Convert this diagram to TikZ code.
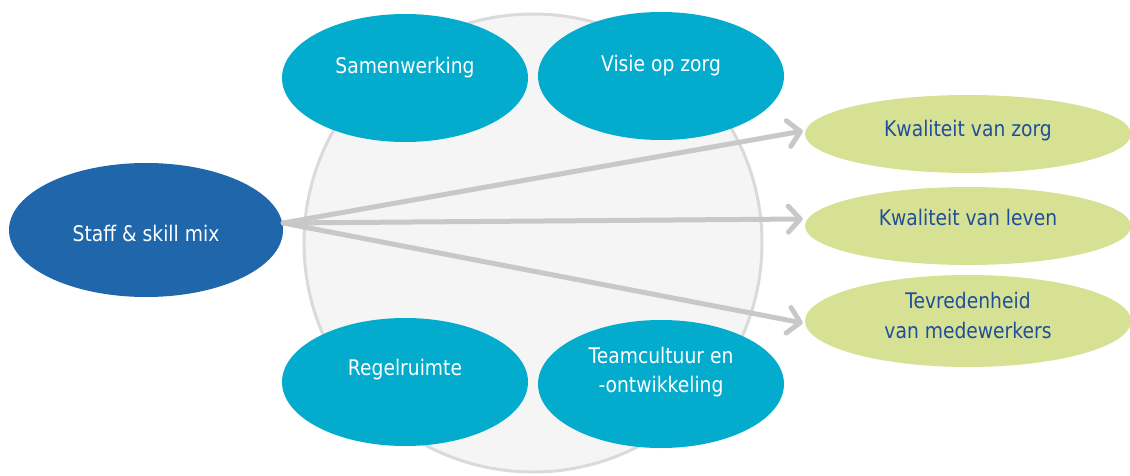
\documentclass[tikz,border=0pt]{standalone}
\usepackage{fontspec}
\setmainfont[FakeStretch=0.87]{DejaVu Sans}
\usetikzlibrary{shapes.geometric,arrows.meta}
\definecolor{cyanell}{HTML}{03ABCD}
\definecolor{darkell}{HTML}{1F67AA}
\definecolor{greenell}{HTML}{D7E194}
\definecolor{greentext}{HTML}{1F4E9C}
\definecolor{circfill}{HTML}{F5F5F5}
\definecolor{circline}{HTML}{DADADA}
\definecolor{arrowgray}{HTML}{C8C8C8}
\tikzset{
  ell/.style={ellipse, inner sep=0pt, draw=none},
  cyanbox/.style={ell, fill=cyanell, minimum width=246pt, minimum height=128pt},
  darkbox/.style={ell, fill=darkell, minimum width=274pt, minimum height=134pt},
  greenbox/.style={ell, fill=greenell, minimum width=326pt},
  wlabel/.style={anchor=base, text=white, font=\fontsize{21.5}{29}\selectfont, inner sep=0pt},
  blabel/.style={anchor=base, text=greentext, font=\fontsize{21.5}{29}\selectfont, inner sep=0pt},
  flow/.style={draw=arrowgray, line width=5pt, line cap=round, line join=round,
    -{Straight Barb[length=12pt,width=26pt,line cap=round,line join=round]}}
}
\begin{document}
\begin{tikzpicture}[x=1pt,y=-1pt]
\useasboundingbox (0,0) rectangle (1130,476);
% big background circle
\node[circle, fill=circfill, draw=circline, line width=3pt, minimum size=458pt, inner sep=0pt] (ring) at (533,243) {};
% source
\node[darkbox] (staff) at (146,230) {};
\node[wlabel] (stafft) at (146,241) {Staff \& skill mix};
\coordinate (src) at ([yshift=7pt]staff.east);
% outcomes
\node[greenbox, minimum height=78pt] (kz) at (968,134) {};
\node[blabel] (kzt) at (968,137) {Kwaliteit van zorg};
\node[greenbox, minimum height=78pt] (kl) at (968,226) {};
\node[blabel] (klt) at (968,225) {Kwaliteit van leven};
\node[greenbox, minimum height=92pt] (tm) at (968,321) {};
\node[blabel] (tmt1) at (968,308) {Tevredenheid};
\node[blabel] (tmt2) at (968,338) {van medewerkers};
% arrows
\draw[flow] (src) -- ([xshift=-2pt,yshift=3pt]kz.west);
\draw[flow] (src) -- ([xshift=-2pt,yshift=7pt]kl.west);
\draw[flow] (src) -- ([xshift=-2pt,yshift=-2pt]tm.west);
% factors
\node[cyanbox] (sam) at (405,78) {};
\node[wlabel] (samt) at (405,74) {Samenwerking};
\node[cyanbox] (vis) at (661,76) {};
\node[wlabel] (vist) at (661,72) {Visie op zorg};
\node[cyanbox] (reg) at (405,382) {};
\node[wlabel] (regt) at (405,375) {Regelruimte};
\node[cyanbox] (team) at (661,384) {};
\node[wlabel] (teamt1) at (661,363) {Teamcultuur en};
\node[wlabel] (teamt2) at (661,392) {-ontwikkeling};
\end{tikzpicture}
\end{document}
